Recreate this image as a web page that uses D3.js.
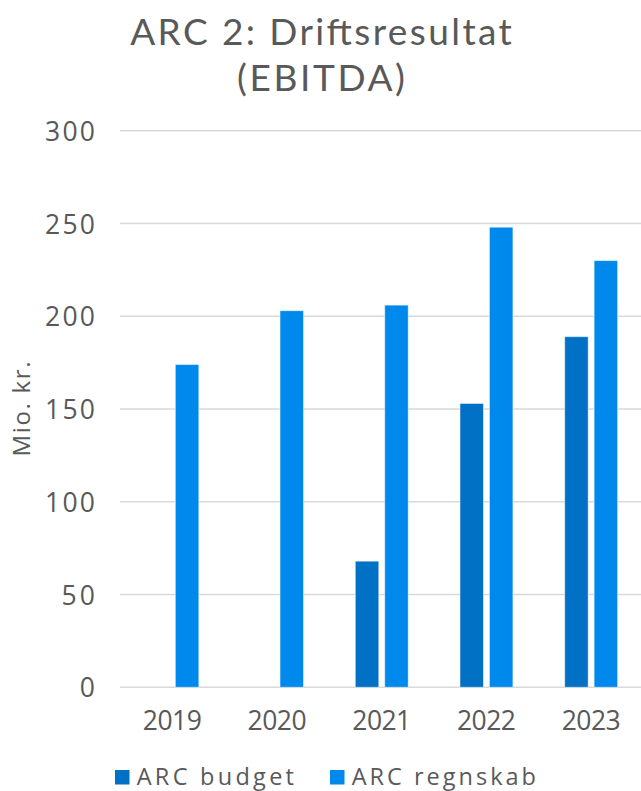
<!DOCTYPE html>
<html>
<head>
<meta charset="utf-8">
<script src="https://cdn.jsdelivr.net/npm/d3@7"></script>
<style>
  html, body { margin: 0; padding: 0; background: #fff; }
  svg { display: block; }
  text { font-family: "Open Sans", Lato, sans-serif; fill: #595959; }
</style>
</head>
<body>
<svg id="chart" width="641" height="791"></svg>
<script>
const years = ["2019", "2020", "2021", "2022", "2023"];
const seriesNames = ["ARC budget", "ARC regnskab"];
const budget = [null, null, 68, 153, 189];
const regnskab = [174, 203, 206, 248, 230];
const yTicks = [0, 50, 100, 150, 200, 250, 300];
const colors = ["#0071C5", "#0089EC"];
const titleLines = ["ARC 2: Driftsresultat", "(EBITDA)"];
const yLabel = "Mio. kr.";

const svg = d3.select("#chart");
const W = 641, H = 791;
const plot = { left: 120, right: 643.5, top: 130.7, bottom: 687.3 };

const x = d3.scaleBand().domain(years).range([plot.left, plot.right]).paddingInner(0.494).paddingOuter(0.247);
const xs = d3.scaleBand().domain(seriesNames).range([0, x.bandwidth()]).paddingInner(0.2);
const y = d3.scaleLinear().domain([0, 300]).range([plot.bottom, plot.top]);

// fit text width with letter spacing
function fit(sel, w) {
  sel.attr("textLength", w).attr("lengthAdjust", "spacing");
}

// gridlines
svg.append("g").selectAll("line").data(yTicks).join("line")
  .attr("x1", plot.left).attr("x2", W)
  .attr("y1", d => y(d)).attr("y2", d => y(d))
  .attr("stroke", "#d9d9d9").attr("stroke-width", 1.5);

// y tick labels
const yAxis = d3.axisLeft(y).tickValues(yTicks).tickSize(0).tickPadding(0);
const gy = svg.append("g").attr("transform", "translate(95,0)").call(yAxis);
gy.select(".domain").remove();
gy.selectAll("text").style("font-size", "26.5px").attr("fill", "#595959").attr("dy", "0.36em")
  .style("font-family", "'Open Sans', sans-serif")
  .each(function(d) { fit(d3.select(this), String(d).length * 16.7); });

// x tick labels
const xAxis = d3.axisBottom(x).tickSize(0).tickPadding(0);
const gx = svg.append("g").call(xAxis);
gx.select(".domain").remove();
gx.selectAll("text").style("font-size", "26.5px").attr("fill", "#595959")
  .attr("y", 730).attr("dy", 0)
  .style("font-family", "'Open Sans', sans-serif")
  .each(function() { fit(d3.select(this), 59); });

// bars
const data = years.map((yr, i) => ({ yr, vals: [budget[i], regnskab[i]] }));
const groups = svg.append("g").selectAll("g").data(data).join("g")
  .attr("transform", d => "translate(" + x(d.yr) + ",0)");
groups.selectAll("rect")
  .data(d => d.vals.map((v, j) => ({ v, s: seriesNames[j], c: colors[j] })).filter(e => e.v != null))
  .join("rect")
  .attr("x", e => xs(e.s))
  .attr("width", xs.bandwidth())
  .attr("y", e => y(e.v))
  .attr("height", e => y(0) - y(e.v))
  .attr("fill", e => e.c)
  .attr("stroke", "rgba(255,255,255,0.55)")
  .attr("stroke-width", 1);

// title (single text element, two lines)
const titleW = [381.7, 168];
const title = svg.append("text")
  .attr("x", W / 2 + 0.5).attr("y", 45)
  .attr("text-anchor", "middle")
  .style("font-family", "Lato, 'Open Sans', sans-serif")
  .style("font-size", "37px");
title.selectAll("tspan").data(titleLines).join("tspan")
  .attr("x", W / 2 + 0.5)
  .attr("dy", (d, i) => i === 0 ? 0 : 45.7)
  .text(d => d)
  .each(function(d, i) { fit(d3.select(this), titleW[i]); });

// y label
svg.append("text")
  .attr("transform", "translate(30,409) rotate(-90)")
  .attr("text-anchor", "middle")
  .style("font-size", "24px")
  .text(yLabel)
  .call(fit, 95);

// legend
const legX = [115, 330];
const legW = [157.3, 184.3];
const leg = svg.append("g").selectAll("g").data(seriesNames).join("g")
  .attr("transform", (d, i) => "translate(" + legX[i] + ",770)");
leg.append("rect").attr("width", 14.5).attr("height", 14.5).attr("fill", (d, i) => colors[i]);
leg.append("text").attr("x", 21.7).attr("y", 15).style("font-size", "23.5px").text(d => d)
  .each(function(d, i) { fit(d3.select(this), legW[i]); });
</script>
</body>
</html>
